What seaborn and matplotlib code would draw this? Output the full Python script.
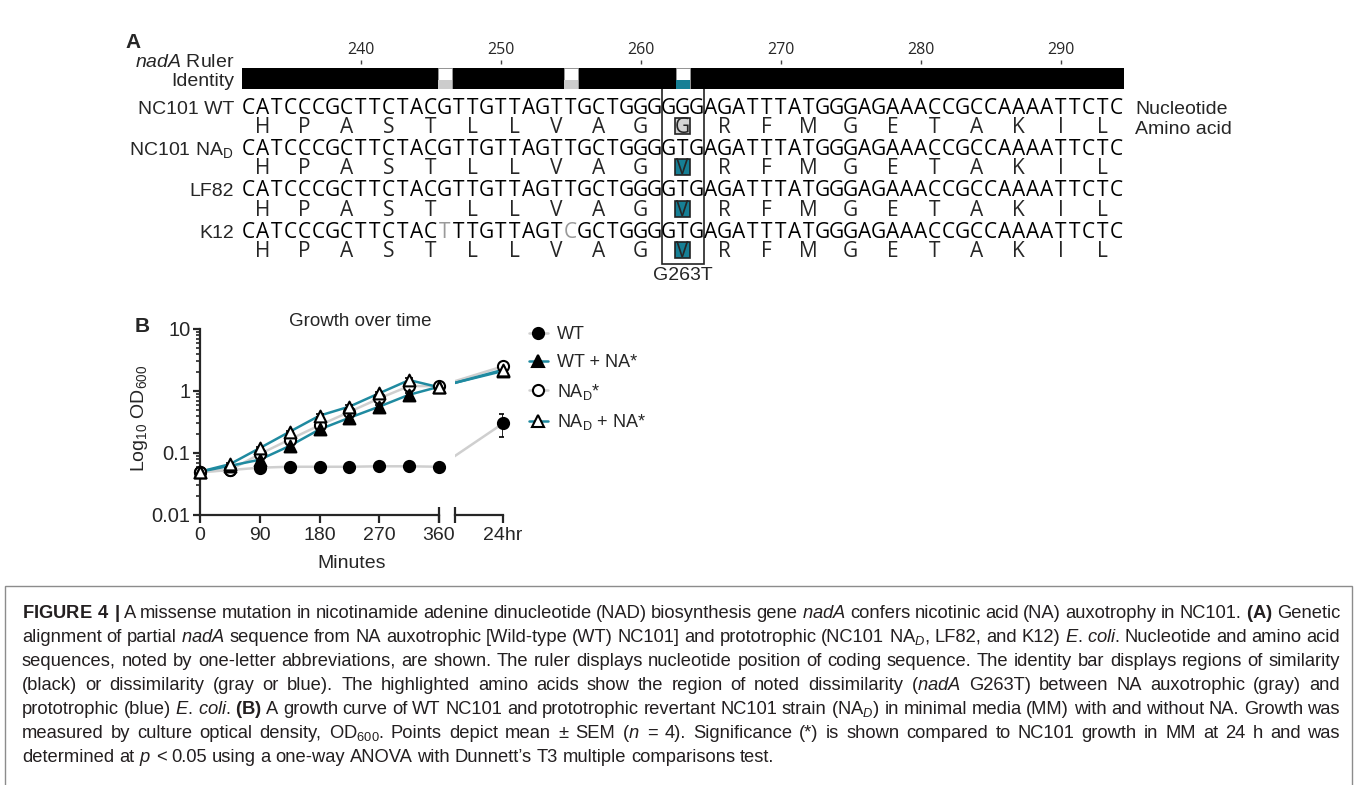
import matplotlib
matplotlib.use("Agg")
import matplotlib.pyplot as plt
import matplotlib.ticker as mticker
from matplotlib.patches import Rectangle
from matplotlib.lines import Line2D
import seaborn as sns
import pandas as pd
import numpy as np

sns.set_style("ticks")
plt.rcParams['font.family'] = ['Liberation Sans', 'DejaVu Sans']
plt.rcParams['mathtext.fontset'] = 'custom'
plt.rcParams['mathtext.rm'] = 'Liberation Sans'
plt.rcParams['mathtext.it'] = 'Liberation Sans:italic'
plt.rcParams['mathtext.bf'] = 'Liberation Sans:bold'

# ---------------- panel A data ----------------
strain_labels = ["NC101 WT", r"NC101 NA$_\mathrm{D}$", "LF82", "K12"]
nucleotides = [
    "CATCCCGCTTCTACGTTGTTAGTTGCTGGGGGGAGATTTATGGGAGAAACCGCCAAAATTCTC",
    "CATCCCGCTTCTACGTTGTTAGTTGCTGGGGTGAGATTTATGGGAGAAACCGCCAAAATTCTC",
    "CATCCCGCTTCTACGTTGTTAGTTGCTGGGGTGAGATTTATGGGAGAAACCGCCAAAATTCTC",
    "CATCCCGCTTCTACTTTGTTAGTCGCTGGGGTGAGATTTATGGGAGAAACCGCCAAAATTCTC",
]
amino_acids = [
    "HPASTLLVAGGRFMGETAKIL",
    "HPASTLLVAGVRFMGETAKIL",
    "HPASTLLVAGVRFMGETAKIL",
    "HPASTLLVAGVRFMGETAKIL",
]
seq_start = 232
ruler_ticks = [240, 250, 260, 270, 280, 290]
dissimilar_pos = [246, 255, 263]
dissimilar_colors = ["#cccccc", "#cccccc", "#167f95"]
dissimilar_height = 0.45
gray_letters = [(3, 246), (3, 255)]   # (strain row, position)
mutation_pos = 263
mutation_label = "G263T"
aa_highlight = ["#d4d4d4", "#167f95", "#167f95", "#167f95"]

# ---------------- panel B data ----------------
time_ticks = [0, 90, 180, 270, 360]
minutes = [0, 45, 90, 135, 180, 225, 270, 315, 360]
pos_24h = 456          # 24 hr point placed after the axis break
x_pos = minutes + [pos_24h]
series_names = ["WT", "WT + NA*", r"NA$_\mathrm{D}$*", r"NA$_\mathrm{D}$ + NA*"]
od_wt = [0.049, 0.053, 0.058, 0.060, 0.060, 0.060, 0.061, 0.061, 0.060, 0.30]
od_wt_na = [0.050, 0.062, 0.078, 0.13, 0.24, 0.37, 0.56, 0.87, 1.17, 2.1]
od_nad = [0.050, 0.053, 0.096, 0.165, 0.28, 0.46, 0.76, 1.20, 1.20, 2.5]
od_nad_na = [0.050, 0.066, 0.12, 0.22, 0.40, 0.56, 0.92, 1.50, 1.15, 2.2]
sem_wt = [0.002, 0.002, 0.002, 0.002, 0.002, 0.002, 0.002, 0.002, 0.002, 0.12]
sem_wt_na = [0.002, 0.003, 0.005, 0.01, 0.03, 0.03, 0.04, 0.06, 0.06, 0.1]
sem_nad = [0.002, 0.002, 0.006, 0.01, 0.02, 0.03, 0.05, 0.08, 0.06, 0.1]
sem_nad_na = [0.002, 0.003, 0.006, 0.01, 0.02, 0.03, 0.05, 0.1, 0.06, 0.1]

teal = "#1f8aa0"
gray = "#cfcfcf"

W, H = 1357, 785
fig = plt.figure(figsize=(W / 100, H / 100), dpi=100)


def fx(x):
    return x / W


def fy(y):
    return 1 - y / H


# ================= Panel A =================
n = len(nucleotides[0])
A_X0, A_X1 = 241.7, 1123.7
ax_a = fig.add_axes([fx(A_X0), fy(285), (A_X1 - A_X0) / W, (285 - 64.5) / H])
ax_a.set_xlim(seq_start - 0.5, seq_start + n - 0.5)
ax_a.set_ylim(285, 64.5)
ax_a.patch.set_visible(False)
for s in ax_a.spines.values():
    s.set_visible(False)
ax_a.xaxis.tick_top()
ax_a.set_xticks(ruler_ticks)
ax_a.set_yticks([])
ax_a.tick_params(axis='x', top=True, bottom=False, length=3, width=1,
                 color='#444444', pad=1.5, labelsize=11.5)
for lbl in ax_a.get_xticklabels():
    lbl.set_fontfamily('Open Sans')

# identity bar
ax_id = fig.add_axes([fx(A_X0), fy(89.3), (A_X1 - A_X0) / W, 21 / H])
positions = np.arange(seq_start, seq_start + n)
ax_id.bar(positions, np.ones(n), width=1.0, color='black', linewidth=0, antialiased=False)
ax_id.bar(dissimilar_pos, np.ones(len(dissimilar_pos)), width=1.0, color='white',
          edgecolor='#9a9a9a', linewidth=0.6)
ax_id.bar(dissimilar_pos, [dissimilar_height] * len(dissimilar_pos), width=1.0,
          color=dissimilar_colors, linewidth=0)
ax_id.set_xlim(seq_start - 0.5, seq_start + n - 0.5)
ax_id.set_ylim(0, 1)
ax_id.axis('off')

seq_rows = [107, 148, 189.5, 231]
aa_offset = 19.5
seq_font = dict(fontfamily='Open Sans', fontsize=15)
for r, (seq, aa) in enumerate(zip(nucleotides, amino_acids)):
    y = seq_rows[r]
    for i, ch in enumerate(seq):
        p = seq_start + i
        col = '#9a9a9a' if (r, p) in gray_letters else 'black'
        ax_a.text(p, y + 7, ch, ha='center', va='baseline', color=col, **seq_font)
    for j, a in enumerate(aa):
        p = seq_start + 3 * j + 1
        if p == mutation_pos:
            ax_a.add_patch(Rectangle((p - 0.55, y + aa_offset - 8), 1.1, 16,
                                     facecolor=aa_highlight[r], edgecolor='#222222', lw=1.2))
        ax_a.text(p, y + aa_offset + 7, a, ha='center', va='baseline', **seq_font)
    fig.text(fx(234), fy(y + 7), strain_labels[r], ha='right', va='baseline', fontsize=14)

ax_a.add_patch(Rectangle((mutation_pos - 1.5, 88.3), 3, 264 - 88.3, fill=False,
                         edgecolor='#222222', lw=1.2, clip_on=False))
ax_a.text(mutation_pos, 280, mutation_label, ha='center', va='baseline', fontsize=14)

fig.text(fx(1135), fy(114), "Nucleotide", ha='left', va='baseline', fontsize=14)
fig.text(fx(1135), fy(134), "Amino acid", ha='left', va='baseline', fontsize=14)
fig.text(fx(234), fy(67), r"$\mathit{nadA}$ Ruler", ha='right', va='baseline', fontsize=14)
fig.text(fx(234), fy(86), "Identity", ha='right', va='baseline', fontsize=14)
fig.text(fx(133), fy(42), "A", ha='center', va='center', fontsize=15, weight='bold')

# ================= Panel B =================
ax_l = fig.add_axes([fx(200), fy(515), 239 / W, 186 / H])
ax_r = fig.add_axes([fx(455), fy(515), 48 / W, 186 / H], sharey=ax_l)
for ax in (ax_l, ax_r):
    ax.set_yscale('log')
    ax.patch.set_visible(False)
ax_l.set_ylim(0.01, 10)
ax_l.set_xlim(0, 360)
ax_r.set_xlim(384, pos_24h)

series = [
    (series_names[0], od_wt, sem_wt, gray, 'o', 'black'),
    (series_names[2], od_nad, sem_nad, gray, 'o', 'white'),
    (series_names[1], od_wt_na, sem_wt_na, teal, '^', 'black'),
    (series_names[3], od_nad_na, sem_nad_na, teal, '^', 'white'),
]

for name, od, sem, lc, mk, fc in series:
    df = pd.DataFrame({'pos': x_pos, 'od': od, 'sem': sem})
    left = df.iloc[:len(minutes)]
    sns.lineplot(data=left, x='pos', y='od', ax=ax_l, color=lc, lw=1.8,
                 errorbar=None, sort=False, zorder=2)
    sns.lineplot(data=df.iloc[len(minutes) - 1:], x='pos', y='od', ax=ax_r, color=lc,
                 lw=1.8, errorbar=None, sort=False, zorder=2)

for name, od, sem, lc, mk, fc in series:
    df = pd.DataFrame({'pos': x_pos, 'od': od, 'sem': sem})
    left = df.iloc[:len(minutes)]
    last = df.iloc[len(minutes):]
    ax_l.errorbar(left['pos'], left['od'], yerr=left['sem'], fmt='none', ecolor='black',
                  elinewidth=1.2, capsize=3, capthick=1.2, zorder=3)
    ax_r.errorbar(last['pos'], last['od'], yerr=last['sem'], fmt='none', ecolor='black',
                  elinewidth=1.2, capsize=3, capthick=1.2, zorder=3)
    size = 64 if mk == 'o' else 72
    sns.scatterplot(data=left, x='pos', y='od', ax=ax_l, marker=mk, s=size, color=fc,
                    edgecolor='black', linewidth=1.5, zorder=4, clip_on=False, legend=False)
    sns.scatterplot(data=last, x='pos', y='od', ax=ax_r, marker=mk, s=size, color=fc,
                    edgecolor='black', linewidth=1.5, zorder=4, clip_on=False, legend=False)

for ax in (ax_l, ax_r):
    ax.set_xlabel('')
    ax.set_ylabel('')
    ax.spines['top'].set_visible(False)
    ax.spines['right'].set_visible(False)
    ax.spines['bottom'].set_linewidth(1.6)
    ax.spines['left'].set_linewidth(1.6)
ax_r.spines['left'].set_visible(False)

ax_l.yaxis.set_major_locator(mticker.FixedLocator([0.01, 0.1, 1, 10]))
ax_l.yaxis.set_major_formatter(mticker.FuncFormatter(lambda v, p: f"{v:g}"))
ax_l.yaxis.set_minor_locator(mticker.LogLocator(base=10, subs=np.arange(2, 10)))
ax_l.yaxis.set_minor_formatter(mticker.NullFormatter())
ax_l.tick_params(axis='y', which='major', length=5, width=1.6, labelsize=14.5, pad=2)
ax_l.tick_params(axis='y', which='minor', length=3, width=1.2)

ax_l.set_xticks(time_ticks)
ax_l.set_xticklabels([str(t) for t in time_ticks])
ax_l.xaxis.remove_overlapping_locs = False
ax_l.xaxis.set_minor_locator(mticker.FixedLocator([360]))
ax_l.tick_params(axis='x', which='major', length=6, width=1.6, labelsize=14, pad=3)
ax_l.tick_params(axis='x', which='minor', direction='inout', length=11, width=1.6)

ax_r.set_xticks([pos_24h])
ax_r.set_xticklabels(["24hr"])
ax_r.xaxis.set_minor_locator(mticker.FixedLocator([384]))
ax_r.tick_params(axis='x', which='major', length=6, width=1.6, labelsize=14, pad=3)
ax_r.tick_params(axis='x', which='minor', direction='inout', length=11, width=1.6)
ax_r.tick_params(axis='y', which='both', left=False, labelleft=False)

fig.text(fx(142), fy(326), "B", ha='center', va='center', fontsize=15, weight='bold')
fig.text(fx(360), fy(322), "Growth over time", ha='center', va='center', fontsize=13.5)
fig.text(fx(352), fy(563), "Minutes", ha='center', va='center', fontsize=14)
fig.text(fx(140), fy(418), r"Log$_{10}$ OD$_{600}$", rotation=90, ha='center',
         va='center', fontsize=14)

handles = []
labels = []
for name in series_names:
    for nm, od, sem, lc, mk, fc in series:
        if nm == name:
            handles.append(Line2D([], [], color=lc, lw=1.8, marker=mk, ms=8 if mk == 'o' else 8.5,
                                  mfc=fc, mec='black', mew=1.5))
            labels.append(name)
fig.legend(handles, labels, loc='upper left', bbox_to_anchor=(fx(529), fy(326)),
           frameon=False, fontsize=13, handlelength=1.05, handletextpad=0.5,
           labelspacing=0.6, borderpad=0, borderaxespad=0)

# ================= Caption =================
caption_lines = [
    r"$\mathbf{FIGURE}$ $\mathbf{4}$ $\mathbf{|}$ A missense mutation in nicotinamide adenine dinucleotide (NAD) biosynthesis gene $\mathit{nadA}$ confers nicotinic acid (NA) auxotrophy in NC101. $\mathbf{(A)}$ Genetic",
    r"alignment of partial $\mathit{nadA}$ sequence from NA auxotrophic [Wild-type (WT) NC101] and prototrophic (NC101 NA$_\mathit{D}$, LF82, and K12) $\mathit{E.}$ $\mathit{coli}$. Nucleotide and amino acid",
    r"sequences, noted by one-letter abbreviations, are shown. The ruler displays nucleotide position of coding sequence. The identity bar displays regions of similarity",
    r"(black) or dissimilarity (gray or blue). The highlighted amino acids show the region of noted dissimilarity ($\mathit{nadA}$ G263T) between NA auxotrophic (gray) and",
    r"prototrophic (blue) $\mathit{E.}$ $\mathit{coli}$. $\mathbf{(B)}$ A growth curve of WT NC101 and prototrophic revertant NC101 strain (NA$_\mathit{D}$) in minimal media (MM) with and without NA. Growth was",
    r"measured by culture optical density, OD$_\mathrm{600}$. Points depict mean ± SEM ($\mathit{n}$ = 4). Significance (*) is shown compared to NC101 growth in MM at 24 h and was",
    r"determined at $\mathit{p}$ < 0.05 using a one-way ANOVA with Dunnett’s T3 multiple comparisons test.",
]
cap_size = 13.2
cap_color = '#231f20'
cap_left, cap_right = 22, 1340
renderer = fig.canvas.get_renderer()
space_w = 0.26 * cap_size * 100 / 72
for k, line in enumerate(caption_lines):
    base = 618 + 24 * k
    words = line.split(" ")
    texts = [fig.text(0, fy(base), w, ha='left', va='baseline', fontsize=cap_size,
                      color=cap_color) for w in words]
    widths = [t.get_window_extent(renderer=renderer).width for t in texts]
    if k < len(caption_lines) - 1:
        gap = (cap_right - cap_left - sum(widths)) / (len(words) - 1)
    else:
        gap = space_w
    x = cap_left
    for t, w in zip(texts, widths):
        t.set_x(fx(x))
        x += w + gap

fig.patches.append(Rectangle((fx(5), fy(800)), fx(1352) - fx(5), fy(586) - fy(800),
                             transform=fig.transFigure, fill=False, edgecolor='#8c8c8c', lw=1))

fig.savefig("out.png", dpi=100)
